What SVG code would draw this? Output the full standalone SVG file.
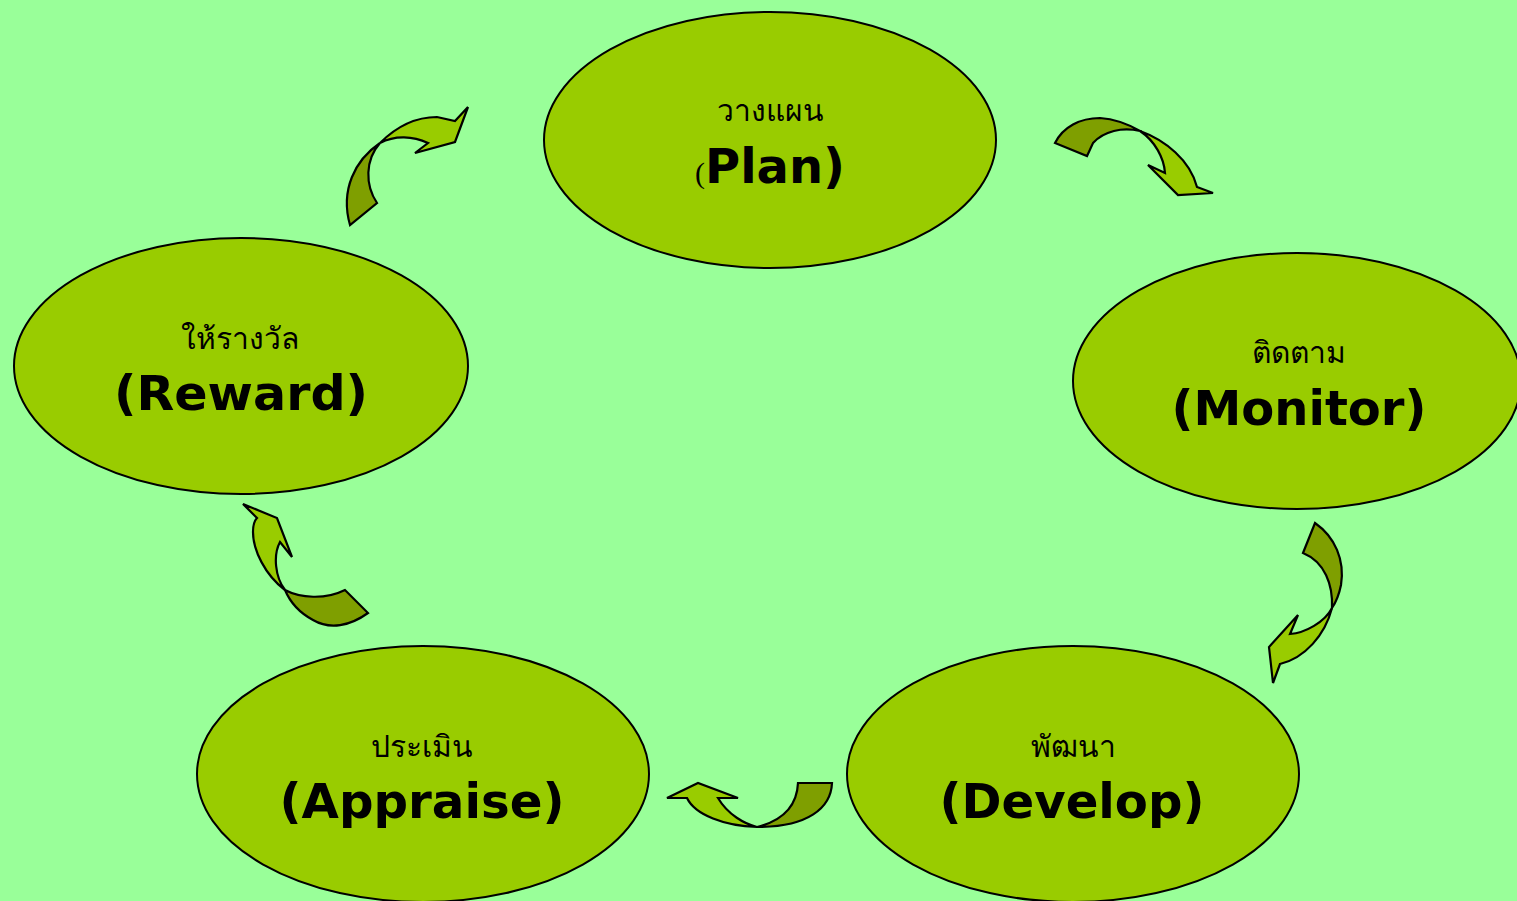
<svg xmlns="http://www.w3.org/2000/svg" width="1517" height="901" viewBox="0 0 1517 901">
<style>
.node{fill:#99cc00;stroke:#000;stroke-width:2}
.th{font-family:"Liberation Serif","Noto Sans",serif;font-size:30px;fill:#000;text-anchor:middle}
.en{font-family:"DejaVu Sans",Verdana,sans-serif;font-weight:bold;font-size:48px;fill:#000;text-anchor:middle}
.dk{fill:#7f9f00;stroke:#000;stroke-width:2.2;stroke-linejoin:miter}
.lt{fill:#99cc00;stroke:#000;stroke-width:2.2;stroke-linejoin:miter}
</style>
<rect width="1517" height="901" fill="#99ff99"/>
<g id="connectors">
<g id="arrow-plan-monitor">
<path class="dk" d="M1055,143 C1063,127 1080,118 1100,118 C1115,119 1128,124 1140,131 C1122,127 1104,131 1093,143 L1087,156 Z"/>
<path class="lt" d="M1140,131 C1165,140 1190,160 1197,187 L1213,193 L1178,195 L1148,165 L1165,173 C1164,158 1155,141 1140,131 Z"/>
</g>
<g id="arrow-monitor-develop">
<path class="dk" d="M1315,523 C1335,537 1345,560 1341,585 C1339,595 1336,602 1332,608 C1333,585 1325,562 1303,553 Z"/>
<path class="lt" d="M1332,608 C1325,635 1305,658 1280,664 L1273,683 L1269,647 L1298,615 L1290,634 C1305,633 1325,622 1332,608 Z"/>
</g>
<g id="arrow-develop-appraise">
<path class="dk" d="M798,783 L832,783 C831,808 808,827 757,827 C785,820 797,805 798,783 Z"/>
<path class="lt" d="M757,827 C725,826 695,815 687,798 L667,798 L698,783 L738,798 L718,798 C728,815 745,824 757,827 Z"/>
</g>
<g id="arrow-appraise-reward">
<path class="lt" d="M243,504 L277,518 L292,557 L280,542 C273,555 275,577 285,590 C265,575 253,550 253,532 C253,524 255,520 257,518 Z"/>
<path class="dk" d="M285,590 C300,598 325,600 345,590 L368,613 C350,626 330,630 313,620 C300,613 290,602 285,590 Z"/>
</g>
<g id="arrow-reward-plan">
<path class="lt" d="M468,107 L455,142 L415,153 L428,143 C413,136 395,135 380,143 C395,128 415,117 437,117 L455,121 Z"/>
<path class="dk" d="M380,143 C355,160 340,190 350,225 L377,203 C365,185 365,160 380,143 Z"/>
</g>
</g>
<g id="node-plan">
<ellipse class="node" cx="770" cy="140" rx="226" ry="128"/>
<text class="th" x="770" y="121">วางแผน</text>
<text class="th" x="700" y="183" font-size="28px">(</text>
<text class="en" x="775" y="183" textLength="140" lengthAdjust="spacingAndGlyphs">Plan)</text>
</g>
<g id="node-monitor">
<ellipse class="node" cx="1297" cy="381" rx="224" ry="128"/>
<text class="th" x="1299" y="363">ติดตาม</text>
<text class="en" x="1299" y="425" textLength="255" lengthAdjust="spacingAndGlyphs">(Monitor)</text>
</g>
<g id="node-develop">
<ellipse class="node" cx="1073" cy="774" rx="226" ry="128"/>
<text class="th" x="1073" y="757">พัฒนา</text>
<text class="en" x="1072" y="818" textLength="265" lengthAdjust="spacingAndGlyphs">(Develop)</text>
</g>
<g id="node-appraise">
<ellipse class="node" cx="423" cy="774" rx="226" ry="128"/>
<text class="th" x="422" y="757">ประเมิน</text>
<text class="en" x="422" y="818" textLength="285" lengthAdjust="spacingAndGlyphs">(Appraise)</text>
</g>
<g id="node-reward">
<ellipse class="node" cx="241" cy="366" rx="227" ry="128"/>
<text class="th" x="240" y="349">ให้รางวัล</text>
<text class="en" x="241" y="410" textLength="254" lengthAdjust="spacingAndGlyphs">(Reward)</text>
</g>
</svg>
